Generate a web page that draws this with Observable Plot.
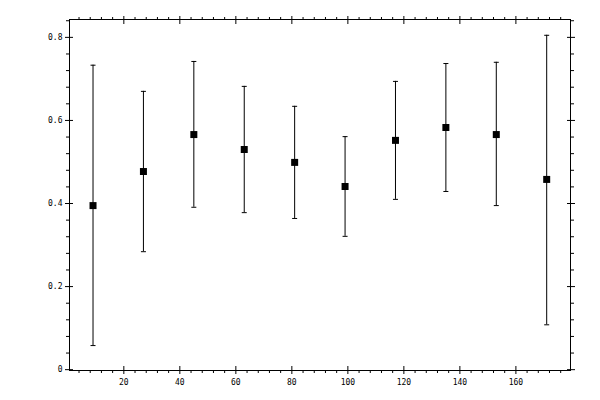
<!DOCTYPE html>
<html>
<head>
<meta charset="utf-8">
<script src="https://cdn.jsdelivr.net/npm/d3@7"></script>
<script src="https://cdn.jsdelivr.net/npm/@observablehq/plot@0.6"></script>
<style>
  html, body { margin: 0; padding: 0; background: #fff; }
  svg { display: block; }
</style>
</head>
<body>
<div id="chart"></div>
<script>
const xs    = [9, 27, 45, 63, 81, 99, 117, 135, 153, 171];
const means = [0.395, 0.477, 0.566, 0.530, 0.499, 0.441, 0.552, 0.583, 0.566, 0.458];
const lows  = [0.058, 0.284, 0.391, 0.378, 0.364, 0.321, 0.410, 0.429, 0.395, 0.108];
const highs = [0.733, 0.670, 0.742, 0.682, 0.634, 0.561, 0.694, 0.737, 0.740, 0.805];

const xMajor = [20, 40, 60, 80, 100, 120, 140, 160];
const xMinor = d3.range(4, 180, 4).filter(v => v % 20 !== 0);
const yMajor = [0, 0.2, 0.4, 0.6, 0.8];
const yMinor = d3.range(1, 22).map(i => +(i * 0.04).toFixed(2)).filter(v => Math.abs(v / 0.2 - Math.round(v / 0.2)) > 1e-6);

const data = xs.map((x, i) => ({x, mean: means[i], lo: lows[i], hi: highs[i]}));

const capSymbol = {
  draw(ctx, size) {
    const w = 2.5;
    ctx.moveTo(-w, 0);
    ctx.lineTo(w, 0);
  }
};

const chart = Plot.plot({
  width: 600,
  height: 400,
  marginLeft: 69,
  marginRight: 30,
  marginTop: 19,
  marginBottom: 30,
  style: {fontFamily: "DejaVu Sans Mono", fontSize: "8px", color: "black", background: "white"},
  x: {domain: [0.6, 179.5], axis: null},
  y: {domain: [-0.002, 0.843], axis: null},
  marks: [
    Plot.frame({stroke: "black"}),
    // major ticks crossing the frame
    Plot.axisX(xMajor, {anchor: "bottom", tickSize: 8, dy: -4, text: null, label: null}),
    Plot.axisX(xMajor, {anchor: "top", tickSize: 8, dy: 4, text: null, label: null}),
    Plot.axisY(yMajor, {anchor: "left", tickSize: 8, dx: 4, text: null, label: null}),
    Plot.axisY(yMajor, {anchor: "right", tickSize: 8, dx: -4, text: null, label: null}),
    // minor ticks outside
    Plot.axisX(xMinor, {anchor: "bottom", tickSize: 3, text: null, label: null}),
    Plot.axisX(xMinor, {anchor: "top", tickSize: 3, text: null, label: null}),
    Plot.axisY(yMinor, {anchor: "left", tickSize: 3, text: null, label: null}),
    Plot.axisY(yMinor, {anchor: "right", tickSize: 3, text: null, label: null}),
    // labels
    Plot.axisX(xMajor, {anchor: "bottom", tickSize: 0, tickPadding: 9, label: null, tickFormat: d => String(d)}),
    Plot.axisY(yMajor, {anchor: "left", tickSize: 0, tickPadding: 7, label: null, tickFormat: d => d === 0 ? "0" : d.toFixed(1)}),
    // error bars
    Plot.ruleX(data, {x: "x", y1: "lo", y2: "hi", stroke: "black", strokeWidth: 1}),
    Plot.dot(data, {x: "x", y: "hi", symbol: capSymbol, stroke: "black", strokeWidth: 1, r: 3}),
    Plot.dot(data, {x: "x", y: "lo", symbol: capSymbol, stroke: "black", strokeWidth: 1, r: 3}),
    Plot.dot(data, {x: "x", y: "mean", symbol: "square", fill: "black", stroke: "none", r: 3.95})
  ]
});
document.getElementById("chart").appendChild(chart);
</script>
</body>
</html>
